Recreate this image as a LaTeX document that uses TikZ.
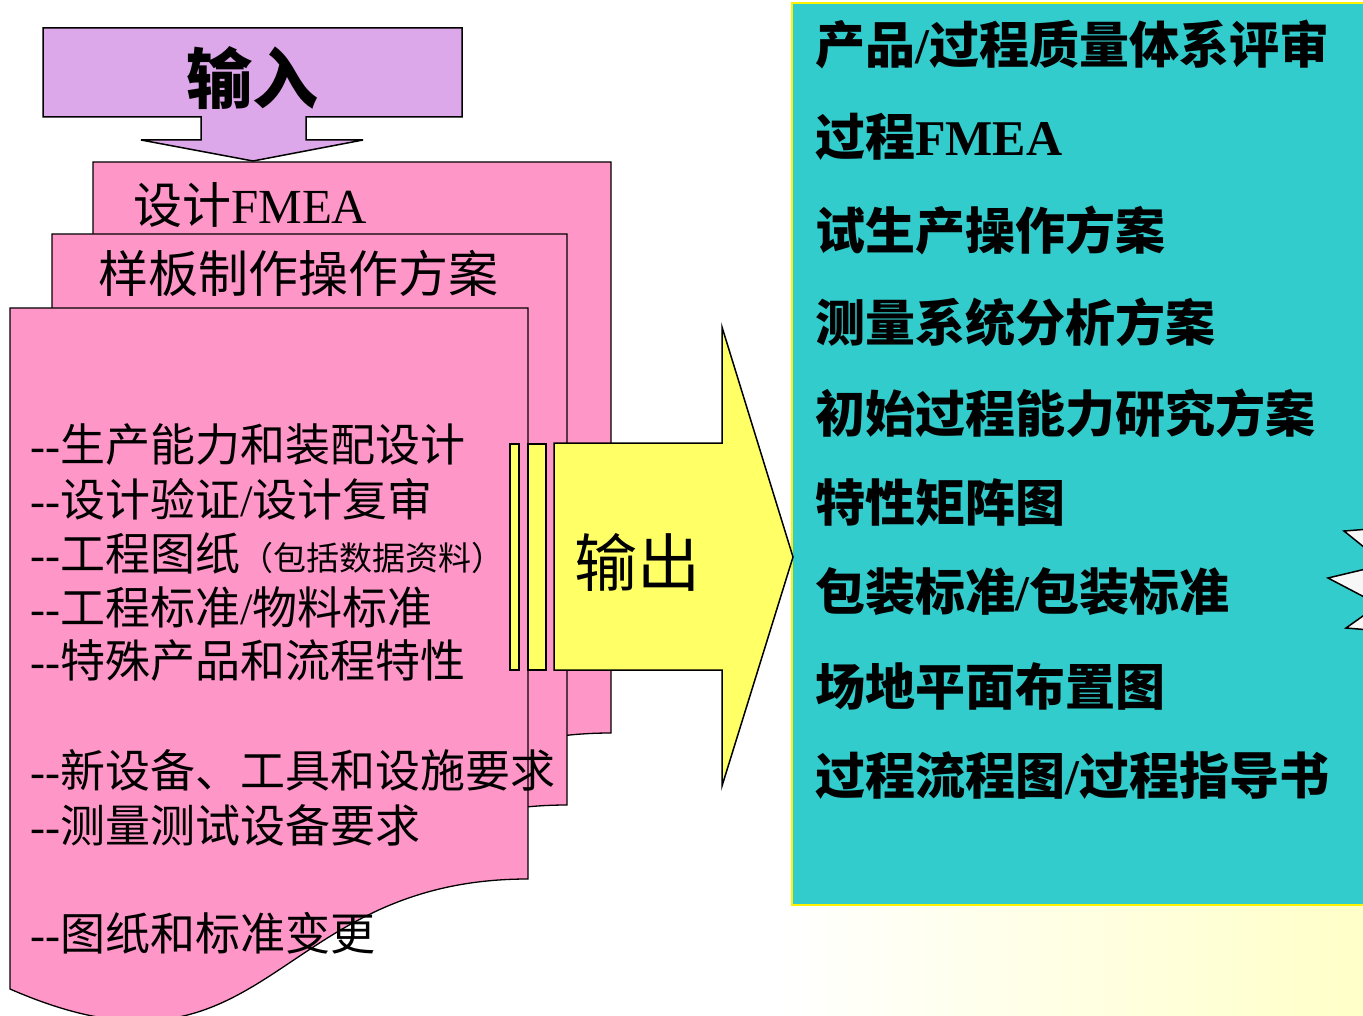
\documentclass[tikz,border=0pt]{standalone}
\usepackage{fontspec}
\setmainfont{Liberation Serif}
\newfontfamily\cjk{Noto Sans CJK SC}
\definecolor{purp}{RGB}{221,168,234}
\definecolor{pinkp}{RGB}{255,150,200}
\definecolor{yel}{RGB}{255,255,102}
\definecolor{teal2}{RGB}{51,204,204}
\definecolor{paleyel}{RGB}{255,255,200}
\newcommand\docpage[3]{%
  \filldraw[pagestyle] (#1,#2) -- (#1+#3,#2) -- (#1+#3,#2+571)
    .. controls (#1+#3/2,#2+571) and (#1+#3/2,#2+794) .. (#1,#2+681) -- cycle;}
\newcommand\dd{-{}-}
\tikzset{
  pagestyle/.style={fill=pinkp, draw=black, line width=1.3pt},
  shapeline/.style={draw=black, line width=1.5pt, line join=miter},
  rtxt/.style={anchor=west, inner sep=0pt, font=\fontsize{50}{50}\selectfont\bfseries},
  ltxt/.style={anchor=west, inner sep=0pt, font=\fontsize{45}{45}\selectfont},
}
\begin{document}
\begin{tikzpicture}[x=1pt,y=-1pt]
\useasboundingbox (0,0) rectangle (1363,1016);
% background gradient
\shade[left color=white, right color=paleyel] (780,906) rectangle (1363,1016);
% teal output box
\filldraw[fill=teal2, draw=yellow, line width=2pt] (792,3) rectangle (1375,905);
% starburst fragment
\filldraw[fill=white!97!black, draw=black, line width=1.5pt]
  (1370,529) -- (1344,531) -- (1370,552) -- (1370,568) -- (1328,578) -- (1370,600)
  -- (1370,611) -- (1346,628) -- (1370,630) -- cycle;
% stacked document pages
\docpage{93}{162}{518}
\docpage{52}{234}{515}
\docpage{10}{308}{518}
% input arrow
\filldraw[fill=purp, shapeline] (43,28) -- (462,28) -- (462,117) -- (306,117) -- (306,140)
  -- (363,140) -- (253,161) -- (141,140) -- (201,140) -- (201,117) -- (43,117) -- cycle;
% yellow bars and output arrow
\filldraw[fill=yel, shapeline] (510,444) rectangle (519,670);
\filldraw[fill=yel, shapeline] (528,444) rectangle (546,670);
\filldraw[fill=yel, shapeline] (554,443) -- (722,443) -- (722,327) -- (793,557)
  -- (722,786) -- (722,670) -- (554,670) -- cycle;
% labels
\node[anchor=center, inner sep=0pt, font=\fontsize{66}{66}\selectfont\bfseries\cjk] (in) at (252,78) {输入};
\node[anchor=center, inner sep=0pt, font=\fontsize{63}{63}\selectfont\cjk] (out) at (637,562) {输出};
\node[anchor=west, inner sep=0pt, font=\fontsize{49}{49}\selectfont] (p1) at (133,205) {{\cjk 设计}FMEA};
\node[anchor=west, inner sep=0pt, font=\fontsize{50}{50}\selectfont\cjk] (p2) at (98,273) {样板制作操作方案};
% left list
\node[ltxt] (l1) at (30,445) {\dd{\cjk 生产能力和装配设计}};
\node[ltxt] (l2) at (30,499) {\dd{\cjk 设计验证}/{\cjk 设计复审}};
\node[ltxt] (l3) at (30,553) {\dd{\cjk 工程图纸}{\fontsize{33}{33}\selectfont\cjk （包括数据资料）}};
\node[ltxt] (l4) at (30,607) {\dd{\cjk 工程标准}/{\cjk 物料标准}};
\node[ltxt] (l5) at (30,661) {\dd{\cjk 特殊产品和流程特性}};
\node[ltxt] (l6) at (30,770) {\dd{\cjk 新设备、工具和设施要求}};
\node[ltxt] (l7) at (30,825) {\dd{\cjk 测量测试设备要求}};
\node[ltxt] (l8) at (30,933) {\dd{\cjk 图纸和标准变更}};
% right list
\node[rtxt] (r1) at (815,45) {{\cjk 产品}/{\cjk 过程质量体系评审}};
\node[rtxt] (r2) at (815,137) {{\cjk 过程}FMEA};
\node[rtxt] (r3) at (815,230) {{\cjk 试生产操作方案}};
\node[rtxt] (r4) at (815,322) {{\cjk 测量系统分析方案}};
\node[rtxt] (r5) at (815,413) {{\cjk 初始过程能力研究方案}};
\node[rtxt] (r6) at (815,503) {{\cjk 特性矩阵图}};
\node[rtxt] (r7) at (815,592) {{\cjk 包装标准}/{\cjk 包装标准}};
\node[rtxt] (r8) at (815,686) {{\cjk 场地平面布置图}};
\node[rtxt] (r9) at (815,775) {{\cjk 过程流程图}/{\cjk 过程指导书}};
\end{tikzpicture}
\end{document}
